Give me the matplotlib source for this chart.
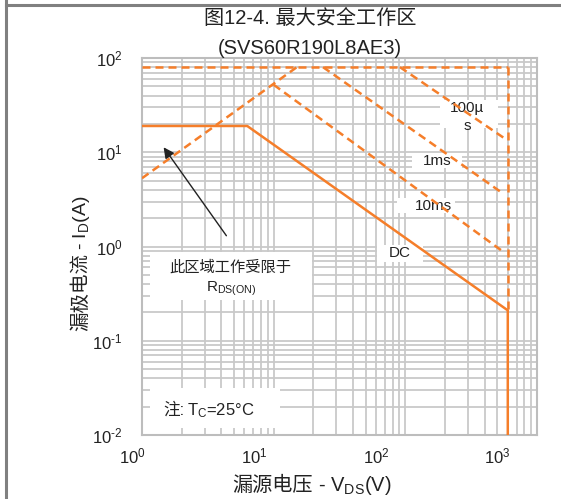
import numpy as np
import matplotlib.pyplot as plt
from matplotlib.lines import Line2D
from matplotlib.patches import Rectangle
from matplotlib.ticker import NullFormatter, FuncFormatter
from matplotlib.transforms import ScaledTranslation

plt.rcParams['font.family'] = ['Liberation Sans', 'Noto Sans CJK SC']
plt.rcParams['mathtext.fontset'] = 'custom'
plt.rcParams['mathtext.rm'] = 'Liberation Sans'
plt.rcParams['mathtext.it'] = 'Liberation Sans'
plt.rcParams['axes.unicode_minus'] = False

# safe operating area curves: V_DS (V) -> I_D (A)
rds_v = [1, 15]
rds_i = [5.3, 80]
top_v = [1, 600]
top_i = [80, 80]
us100_v = [91, 560]
us100_i = [80, 14.2]
ms1_v = [23.7, 560]
ms1_i = [80, 3.6]
ms10_v = [10, 560]
ms10_i = [52, 0.87]
vmax_v = [600, 600]
vmax_i = [80, 0.21]
dc_v = [1, 6.3, 600, 600]
dc_i = [19, 19, 0.21, 0.01]

xticks = [1, 10, 100, 1000]
yticks = [0.01, 0.1, 1, 10, 100]

ORANGE = '#f57e2a'
TXT = '#222222'
DASH = (0, (3.2, 2.0))
W, H = 561, 499


def px2ax(x, y):
    # pixel position -> axes fraction
    return (x - 142) / 395, (435 - y) / 377


def pow_label(v, pos):
    e = int(round(np.log10(v)))
    s = r'\text{-}%d' % -e if e < 0 else '%d' % e
    return r'$\mathdefault{10^{%s}}$' % s


fig = plt.figure(figsize=(W / 100, H / 100), dpi=100)
ax = fig.add_axes([142 / W, (H - 435) / H, 395 / W, 377 / H])
ax.set_xscale('log')
ax.set_yscale('log')
ax.set_xlim(1, 1000)
ax.set_ylim(0.01, 100)
ax.set_xticks(xticks)
ax.set_yticks(yticks)
ax.xaxis.set_major_formatter(FuncFormatter(pow_label))
ax.yaxis.set_major_formatter(FuncFormatter(pow_label))
ax.xaxis.set_minor_formatter(NullFormatter())
ax.yaxis.set_minor_formatter(NullFormatter())
ax.grid(True, which='both', color='#c9c9c9', lw=1.3)
ax.set_axisbelow(True)
for s in ax.spines.values():
    s.set_color('#bdbdbd')
    s.set_linewidth(1.5)
ax.tick_params(which='both', length=0, labelsize=12, colors=TXT)
ax.tick_params(axis='x', pad=8)
ax.tick_params(axis='y', pad=14)

# labels in the source sit a bit left of their grid lines
for lab, dx in zip(ax.get_xticklabels(), [-10, -19, -29, -40]):
    lab.set_transform(lab.get_transform() + ScaledTranslation(dx / 100, 0, fig.dpi_scale_trans))

# white boxes behind the labels
boxes = [(440, 100, 498, 128), (412, 153, 462, 168), (397, 198, 455, 213),
         (377, 245, 423, 262), (150, 252, 312, 300), (150, 388, 280, 428)]
for x0, y0, x1, y1 in boxes:
    ax0, ay1 = px2ax(x0, y0)
    ax1, ay0 = px2ax(x1, y1)
    ax.add_patch(Rectangle((ax0, ay0), ax1 - ax0, ay1 - ay0, transform=ax.transAxes,
                           fc='white', ec='none', zorder=1))

for v, i in [(rds_v, rds_i), (top_v, top_i), (us100_v, us100_i), (ms1_v, ms1_i),
             (ms10_v, ms10_i), (vmax_v, vmax_i)]:
    ax.plot(v, i, color=ORANGE, lw=1.8, ls=DASH, zorder=3)
ax.plot(dc_v, dc_i, color=ORANGE, lw=1.8, zorder=3)

tk = dict(transform=ax.transAxes, ha='center', va='center', color=TXT, fontsize=11, zorder=2)
ax.text(*px2ax(467, 108), '100µ', **tk)
ax.text(*px2ax(467, 126), 's', **tk)
ax.text(*px2ax(437, 161), '1ms', **tk)
ax.text(*px2ax(433, 206), '10ms', **tk)
ax.text(*px2ax(400, 253), 'DC', **tk)
ax.text(*px2ax(230, 267), '此区域工作受限于', **tk)
ax.text(*px2ax(231, 289), r'R$_{\mathdefault{DS(ON)}}$', **tk)

nt = dict(transform=ax.transAxes, va='baseline', color=TXT, fontsize=12, zorder=2)
ax.text(*px2ax(184, 415), '注:', ha='right', **nt)
ax.text(*px2ax(187, 415), r'T$_{\mathdefault{C}}$=25°C', ha='left', **nt)

ax.annotate('', xy=px2ax(162, 145), xytext=px2ax(228, 238),
            xycoords='axes fraction', textcoords='axes fraction',
            arrowprops=dict(arrowstyle='-|>', color=TXT, lw=1.0, mutation_scale=16))

# titles and axis labels
fig.text(310 / W, 1 - 19 / H, '图12-4. 最大安全工作区', ha='center', va='center',
         fontsize=14.5, color=TXT)
fig.text(310 / W, 1 - 48 / H, '(SVS60R190L8AE3)', ha='center', va='center',
         fontsize=14.5, color=TXT)

fig.text(313 / W, 1 - 491 / H, '漏源电压', ha='right', va='baseline', fontsize=14.5, color=TXT)
fig.text(318 / W, 1 - 491 / H, r'- V$_{\mathdefault{DS}}$(V)', ha='left', va='baseline',
         fontsize=14.5, color=TXT)

fig.text(86 / W, 1 - 253 / H, '漏极电流', rotation=90, rotation_mode='anchor',
         ha='right', va='baseline', fontsize=14, color=TXT)
fig.text(86 / W, 1 - 250 / H, r'- I$_{\mathdefault{D}}$(A)', rotation=90, rotation_mode='anchor',
         ha='left', va='baseline', fontsize=14, color=TXT)

# page border seen in the source
fig.add_artist(Line2D([6 / W, 6 / W], [0, 1], transform=fig.transFigure, color='#808080', lw=2.2))
fig.add_artist(Line2D([6 / W, 1], [1 - 5 / H, 1 - 5 / H], transform=fig.transFigure,
                      color='#808080', lw=2.2))

fig.savefig('out.png', dpi=100)
